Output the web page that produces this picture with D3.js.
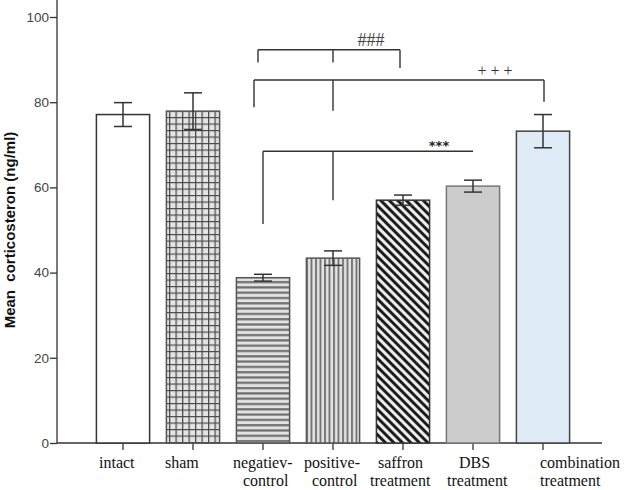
<!DOCTYPE html>
<html>
<head>
<meta charset="utf-8">
<script src="https://cdn.jsdelivr.net/npm/d3@7"></script>
<style>
  body { margin: 0; background: #fff; }
  svg { display: block; }
</style>
</head>
<body>
<div id="chart"></div>
<script>
// groups, means and error bars
var groups = ["intact", "sham", "negatiev-control", "positive-control", "saffron treatment", "DBS treatment", "combination treatment"];
var labelLines = [["intact"], ["sham"], ["negatiev-", "control"], ["positive-", "control"], ["saffron", "treatment"], ["DBS", "treatment"], ["combination", "treatment"]];
var means = [77.1, 77.9, 38.8, 43.4, 57.0, 60.3, 73.2];
var errors = [2.8, 4.3, 0.8, 1.7, 1.2, 1.4, 3.9];
var yTicks = [0, 20, 40, 60, 80, 100];

// significance brackets: label, bar indices, level of the bar, leg ends
var sigLabels = ["###", "+ + +", "***"];
var sigGroups = [[2, 3, 4], [2, 3, 6], [2, 3, 5]];
var sigLevels = [92.3, 85.2, 68.5];
var sigLegEnds = [[89.3, 89.3, 88.0], [78.8, 78.0, 80.1], [51.4, 57.0, null]];

var svgWidth = 624;
var svgHeight = 490;

var svg = d3.select("#chart")
  .append("svg")
  .attr("width", svgWidth)
  .attr("height", svgHeight);

// patterns
var defs = svg.append("defs");

var grid = defs.append("pattern")
  .attr("id", "grid")
  .attr("patternUnits", "userSpaceOnUse")
  .attr("width", 6.5).attr("height", 6.5);
grid.append("rect").attr("width", 6.5).attr("height", 6.5).attr("fill", "#e4e4e4");
grid.append("path").attr("d", "M0,0.6H6.5M0.6,0V6.5")
  .attr("stroke", "#4a4a4a").attr("stroke-width", 1.3);

var hs = defs.append("pattern")
  .attr("id", "hstripe")
  .attr("patternUnits", "userSpaceOnUse")
  .attr("width", 10).attr("height", 5.3);
hs.append("rect").attr("width", 10).attr("height", 5.3).attr("fill", "#e2e2e2");
hs.append("path").attr("d", "M0,1.2H10")
  .attr("stroke", "#6e6e6e").attr("stroke-width", 2.2);

var vs = defs.append("pattern")
  .attr("id", "vstripe")
  .attr("patternUnits", "userSpaceOnUse")
  .attr("width", 4.5).attr("height", 10);
vs.append("rect").attr("width", 4.5).attr("height", 10).attr("fill", "#e2e2e2");
vs.append("path").attr("d", "M1,0V10")
  .attr("stroke", "#6e6e6e").attr("stroke-width", 1.8);

var dg = defs.append("pattern")
  .attr("id", "diag")
  .attr("patternUnits", "userSpaceOnUse")
  .attr("width", 6).attr("height", 10)
  .attr("patternTransform", "rotate(-45)");
dg.append("rect").attr("width", 6).attr("height", 10).attr("fill", "#ececec");
dg.append("path").attr("d", "M1.5,0V10")
  .attr("stroke", "#111").attr("stroke-width", 2.8);

var fills = ["#ffffff", "url(#grid)", "url(#hstripe)", "url(#vstripe)", "url(#diag)", "#cccccc", "#e0ebf8"];
var strokes = ["#333", "#555", "#555", "#555", "#333", "#777", "#444"];

// scales
var x = d3.scaleBand()
  .domain(groups)
  .range([88, 578])
  .paddingInner(0.24)
  .paddingOuter(0.12);

var y = d3.scaleLinear()
  .domain([0, 100])
  .range([443, 17]);

var axisX0 = 57;

// y axis
var yAxis = svg.append("g")
  .attr("transform", `translate(${axisX0},0)`)
  .call(d3.axisLeft(y).tickValues(yTicks).tickSize(7).tickSizeOuter(0));
yAxis.select(".domain").remove();
yAxis.selectAll(".tick line").attr("stroke", "#333").attr("stroke-width", 1.3);
yAxis.selectAll(".tick text")
  .attr("font-family", "Liberation Sans, Arial, sans-serif")
  .attr("font-size", 13.5)
  .attr("fill", "#444")
  .attr("x", -8);

svg.append("line")
  .attr("x1", axisX0).attr("x2", axisX0)
  .attr("y1", 0).attr("y2", y(0))
  .attr("stroke", "#333").attr("stroke-width", 1.3);

// x axis
var xAxis = svg.append("g")
  .attr("transform", `translate(0,${y(0)})`)
  .call(d3.axisBottom(x).tickSize(7).tickSizeOuter(0).tickFormat(""));
xAxis.select(".domain").remove();
xAxis.selectAll(".tick line").attr("stroke", "#333").attr("stroke-width", 1.3);

svg.append("line")
  .attr("x1", axisX0).attr("x2", 602)
  .attr("y1", y(0)).attr("y2", y(0))
  .attr("stroke", "#333").attr("stroke-width", 1.3);

// bars
svg.selectAll("rect.bar")
  .data(groups)
  .enter()
  .append("rect")
  .attr("class", "bar")
  .attr("x", d => x(d))
  .attr("y", (d, i) => y(means[i]))
  .attr("width", x.bandwidth())
  .attr("height", (d, i) => y(0) - y(means[i]))
  .attr("fill", (d, i) => fills[i])
  .attr("stroke", (d, i) => strokes[i])
  .attr("stroke-width", 1.5);

// error bars
var cx = d => x(d) + x.bandwidth() / 2;
var eb = svg.selectAll("g.err")
  .data(groups)
  .enter()
  .append("g")
  .attr("class", "err")
  .attr("stroke", "#333")
  .attr("stroke-width", 1.5);
eb.append("line")
  .attr("x1", cx).attr("x2", cx)
  .attr("y1", (d, i) => y(means[i] + errors[i]))
  .attr("y2", (d, i) => y(means[i] - errors[i]));
eb.append("line")
  .attr("x1", d => cx(d) - 9).attr("x2", d => cx(d) + 9)
  .attr("y1", (d, i) => y(means[i] + errors[i]))
  .attr("y2", (d, i) => y(means[i] + errors[i]));
eb.append("line")
  .attr("x1", d => cx(d) - 9).attr("x2", d => cx(d) + 9)
  .attr("y1", (d, i) => y(means[i] - errors[i]))
  .attr("y2", (d, i) => y(means[i] - errors[i]));

// x labels (hand placed like the original)
var labelStart = [[99], [165], [233, 243], [304, 312], [378, 370], [459, 447], [540, 540]];
labelLines.forEach(function(lines, i) {
  lines.forEach(function(t, j) {
    svg.append("text")
      .attr("x", labelStart[i][j])
      .attr("y", 468 + j * 18)
      .attr("font-family", "Liberation Serif, Times New Roman, serif")
      .attr("font-size", 16)
      .attr("fill", "#111")
      .text(t);
  });
});

// y axis title
svg.append("text")
  .attr("transform", "translate(15,230) rotate(-90)")
  .attr("text-anchor", "middle")
  .attr("font-family", "Liberation Sans, Arial, sans-serif")
  .attr("font-weight", "bold")
  .attr("font-size", 15)
  .attr("fill", "#111")
  .attr("xml:space", "preserve")
  .text("Mean  corticosteron (ng/ml)");

// significance brackets
var legShift = [[-5, 0, -3], [-9, 0, 1], [0, 0, 0]];
sigLabels.forEach(function(lab, k) {
  var xs = sigGroups[k].map((g, j) => cx(groups[g]) + legShift[k][j]);
  var yl = y(sigLevels[k]);
  var g = svg.append("g").attr("stroke", "#333").attr("stroke-width", 1.4);
  g.append("line")
    .attr("x1", d3.min(xs)).attr("x2", d3.max(xs))
    .attr("y1", yl).attr("y2", yl);
  xs.forEach(function(xv, j) {
    if (sigLegEnds[k][j] === null) return;
    g.append("line")
      .attr("x1", xv).attr("x2", xv)
      .attr("y1", yl).attr("y2", y(sigLegEnds[k][j]));
  });
});

svg.append("text")
  .attr("x", 371).attr("y", 46)
  .attr("text-anchor", "middle")
  .attr("font-family", "Liberation Serif, serif")
  .attr("font-size", 18)
  .attr("fill", "#444")
  .text(sigLabels[0]);

svg.append("text")
  .attr("x", 495).attr("y", 76)
  .attr("text-anchor", "middle")
  .attr("font-family", "Liberation Serif, serif")
  .attr("font-size", 16)
  .attr("fill", "#333")
  .text(sigLabels[1]);

svg.append("text")
  .attr("x", 439).attr("y", 150)
  .attr("text-anchor", "middle")
  .attr("font-family", "DejaVu Sans, sans-serif")
  .attr("font-weight", "bold")
  .attr("font-size", 13)
  .attr("fill", "#222")
  .text(sigLabels[2]);
</script>
</body>
</html>
